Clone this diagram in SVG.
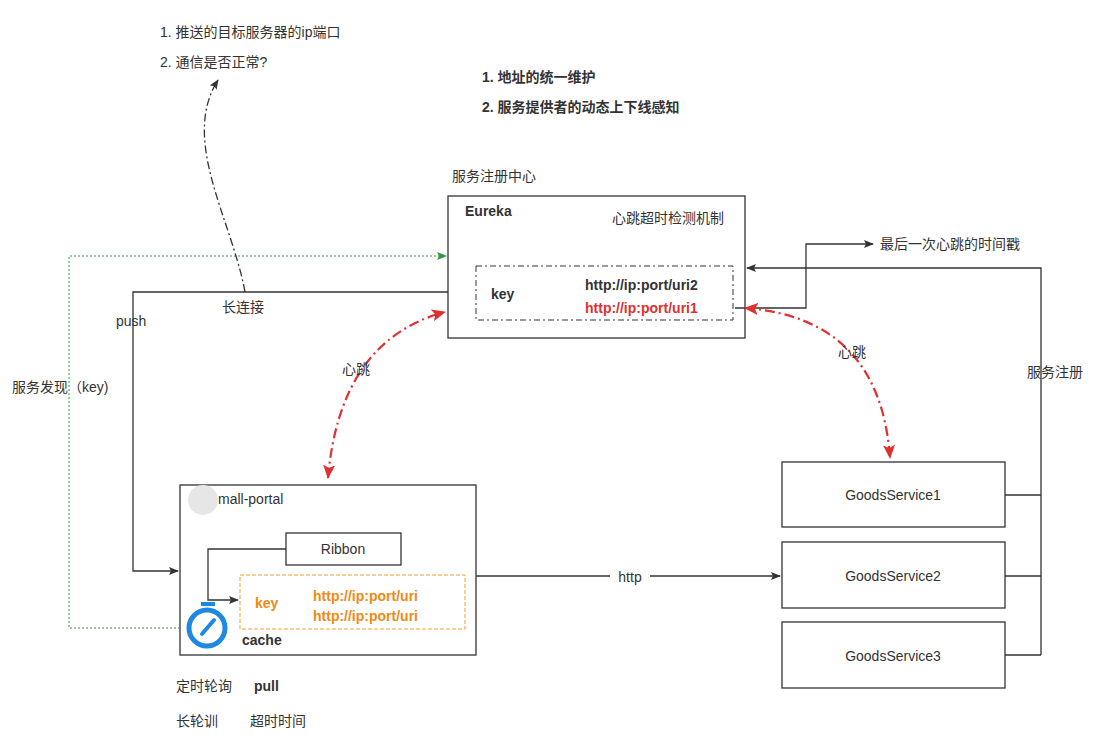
<svg xmlns="http://www.w3.org/2000/svg" width="1108" height="739" viewBox="0 0 1108 739">
<style>
text{font-family:"Liberation Sans","Noto Sans CJK SC",sans-serif;font-size:14px;fill:#333}
.b{font-weight:bold}
.box{fill:#fff;stroke:#333;stroke-width:1.3}
.ln{fill:none;stroke:#333;stroke-width:1.3}
.red{fill:none;stroke:#e03030;stroke-width:2.2;stroke-dasharray:10 4 2 4}
</style>
<defs>
<marker id="ak" markerWidth="10" markerHeight="8" refX="9" refY="4" orient="auto" markerUnits="userSpaceOnUse"><path d="M0,0L10,4L0,8L2,4z" fill="#333"/></marker>
<marker id="ag" markerWidth="10" markerHeight="8" refX="9" refY="4" orient="auto" markerUnits="userSpaceOnUse"><path d="M0,0L10,4L0,8L2,4z" fill="#2a9a3a"/></marker>
<marker id="ar" markerWidth="14" markerHeight="12" refX="13" refY="6" orient="auto" markerUnits="userSpaceOnUse"><path d="M0,0L14,6L0,12L3,6z" fill="#e03030"/></marker>
<marker id="ars" markerWidth="14" markerHeight="12" refX="1" refY="6" orient="auto" markerUnits="userSpaceOnUse"><path d="M14,0L0,6L14,12L11,6z" fill="#e03030"/></marker>
</defs>
<rect width="1108" height="739" fill="#fff"/>
<g id="eureka">
<rect class="box" x="448" y="196" width="297" height="142"/>
<text x="465" y="216" class="b">Eureka</text>
<text x="612" y="223" font-size="13">心跳超时检测机制</text>
<rect x="476" y="266" width="257" height="54" fill="#fff" stroke="#333" stroke-dasharray="6 3 2 3"/>
<text x="491" y="299" class="b" font-size="15">key</text>
<text x="585" y="290" class="b">http://ip:port/uri2</text>
<text x="585" y="313" class="b" style="fill:#e03030">http://ip:port/uri1</text>
</g>
<g id="mall-portal">
<rect class="box" x="180" y="485" width="296" height="170"/>
<circle cx="203" cy="500" r="15" fill="#e6e6e6"/>
<text x="218" y="504">mall-portal</text>
<rect x="240" y="575" width="225" height="54" fill="#fff" stroke="#f0a030" stroke-dasharray="4 2"/>
<text x="255" y="608" class="b" style="fill:#f08a10">key</text>
<text x="313" y="601" class="b" style="fill:#f08a10">http://ip:port/uri</text>
<text x="313" y="621" class="b" style="fill:#f08a10">http://ip:port/uri</text>
<text x="242" y="645" class="b">cache</text>
</g>
<g id="ribbon"><rect class="box" x="286" y="533" width="115" height="32"/><text x="343" y="554" text-anchor="middle">Ribbon</text></g>
<g id="gs1"><rect class="box" x="782" y="462" width="223" height="65"/><text x="893" y="500" text-anchor="middle">GoodsService1</text></g>
<g id="gs2"><rect class="box" x="782" y="542" width="223" height="66"/><text x="893" y="581" text-anchor="middle">GoodsService2</text></g>
<g id="gs3"><rect class="box" x="782" y="622" width="223" height="66"/><text x="893" y="661" text-anchor="middle">GoodsService3</text></g>
<g id="connectors">
<path class="ln" d="M448,292H133V571H178" marker-end="url(#ak)"/>
<path d="M180,628H69V256H446" fill="none" stroke="#2a9a3a" stroke-width="1" stroke-dasharray="2 2" marker-end="url(#ag)"/>
<path class="ln" d="M245,292C232,220 180,140 218,80" stroke-dasharray="8 3 2 3" marker-end="url(#ak)"/>
<path class="ln" d="M1041,655V268H747" marker-end="url(#ak)"/>
<path class="ln" d="M1005,495H1041M1005,576H1041M1005,655H1041"/>
<path class="ln" d="M735,308H806V244H873" marker-end="url(#ak)"/>
<path class="ln" d="M476,576H780" marker-end="url(#ak)"/>
<path class="ln" d="M286,549H208V600H238" marker-end="url(#ak)"/>
<path class="red" d="M328,478Q340,340 445,312" marker-start="url(#ars)" marker-end="url(#ar)"/>
<path class="red" d="M745,308Q880,318 890,458" marker-start="url(#ars)" marker-end="url(#ar)"/>
</g>
<g id="stopwatch">
<rect x="201" y="602" width="14" height="4" fill="#1e88e5"/>
<circle cx="207" cy="628" r="18" fill="#fff" stroke="#1e88e5" stroke-width="5"/>
<path d="M202,634L214,620" stroke="#1e88e5" stroke-width="4" stroke-linecap="round"/>
</g>
<g id="labels">
<text x="160" y="37" font-size="13">1. 推送的目标服务器的ip端口</text>
<text x="160" y="67" font-size="13">2. 通信是否正常?</text>
<text x="482" y="82" class="b" font-size="13">1. 地址的统一维护</text>
<text x="482" y="112" class="b" font-size="13">2. 服务提供者的动态上下线感知</text>
<text x="452" y="181" font-size="13">服务注册中心</text>
<rect x="220" y="298" width="52" height="18" fill="#fff"/>
<text x="222" y="312" font-size="13">长连接</text>
<text x="116" y="326" font-size="13">push</text>
<text x="12" y="392" font-size="13">服务发现（key)</text>
<text x="342" y="374" font-size="13">心跳</text>
<text x="838" y="357" font-size="13">心跳</text>
<text x="880" y="249" font-size="13">最后一次心跳的时间戳</text>
<text x="1027" y="377" font-size="13">服务注册</text>
<rect x="610" y="568" width="40" height="16" fill="#fff"/>
<text x="630" y="582" text-anchor="middle" font-size="13">http</text>
<text x="176" y="691" font-size="13">定时轮询</text>
<text x="254" y="691" class="b" font-size="13">pull</text>
<text x="176" y="726" font-size="13">长轮训</text>
<text x="250" y="726" font-size="13">超时时间</text>
</g>
</svg>
